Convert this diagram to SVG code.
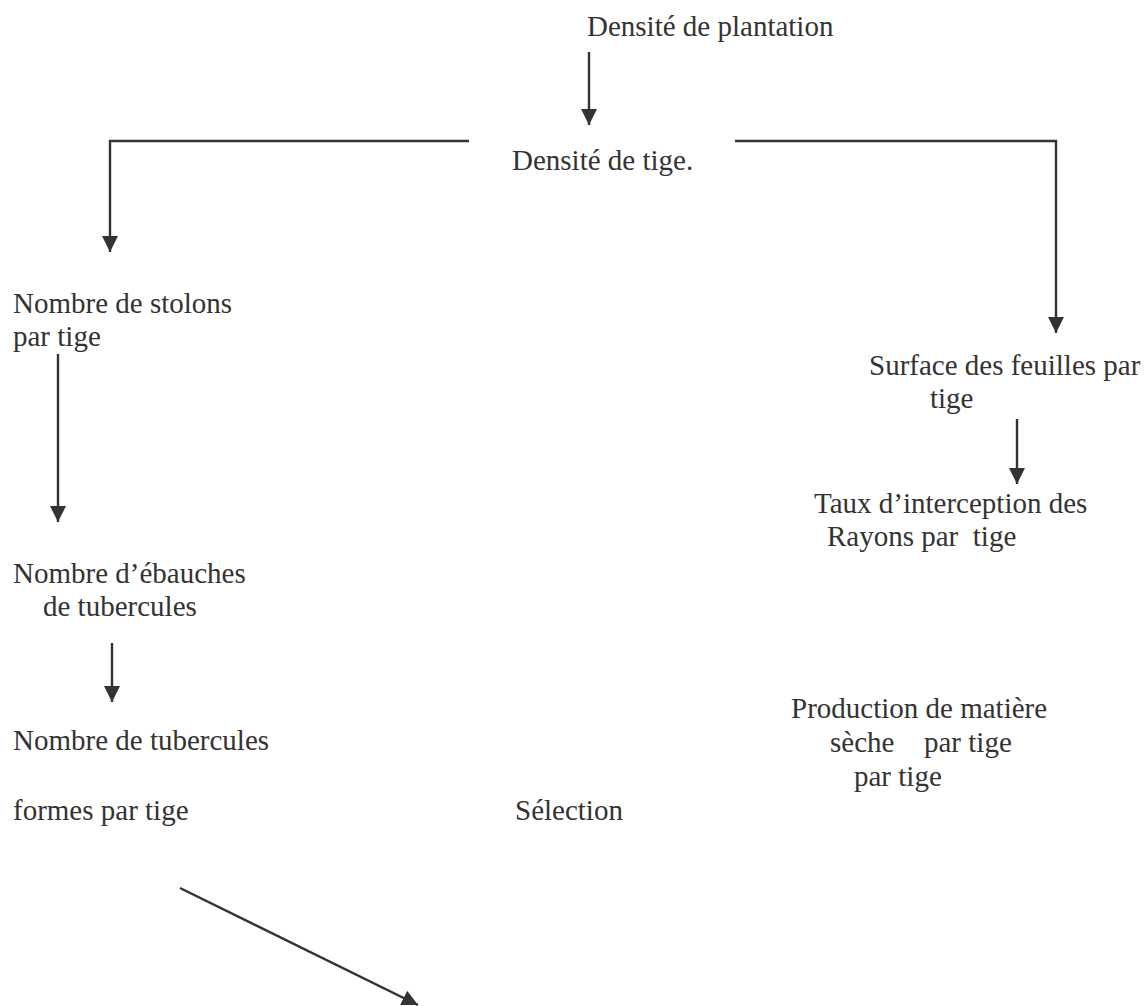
<svg xmlns="http://www.w3.org/2000/svg" width="1146" height="1006" viewBox="0 0 1146 1006">
  <style>
    .lbl { font-family: "Liberation Serif", "Times New Roman", serif; font-size: 29px; fill: #333333; }
    .edge { fill: none; stroke: #333333; stroke-width: 2.4; }
  </style>
  <defs>
    <marker id="arrow" markerUnits="userSpaceOnUse" markerWidth="16" markerHeight="16" viewBox="0 0 16 16" refX="16" refY="8" orient="auto">
      <path d="M0,0 L16,8 L0,16 z" fill="#333333"/>
    </marker>
  </defs>
  <rect width="1146" height="1006" fill="#ffffff"/>

  <!-- connectors -->
  <g id="connectors">
    <line class="edge" x1="589" y1="52" x2="589" y2="125" marker-end="url(#arrow)"/>
    <polyline class="edge" points="469,141 110,141 110,252" marker-end="url(#arrow)"/>
    <polyline class="edge" points="735,141 1056,141 1056,333" marker-end="url(#arrow)"/>
    <line class="edge" x1="58" y1="354" x2="58" y2="522" marker-end="url(#arrow)"/>
    <line class="edge" x1="112" y1="643" x2="112" y2="702" marker-end="url(#arrow)"/>
    <line class="edge" x1="1017" y1="419" x2="1017" y2="484" marker-end="url(#arrow)"/>
    <line class="edge" x1="180" y1="888" x2="418" y2="1005" marker-end="url(#arrow)"/>
  </g>

  <!-- nodes -->
  <g id="densite-plantation">
    <text class="lbl" x="587" y="36">Densité de plantation</text>
  </g>
  <g id="densite-tige">
    <text class="lbl" x="512" y="170">Densité de tige.</text>
  </g>
  <g id="stolons">
    <text class="lbl" x="13" y="313">Nombre de stolons</text>
    <text class="lbl" x="13" y="346">par tige</text>
  </g>
  <g id="ebauches">
    <text class="lbl" x="13" y="583">Nombre d’ébauches</text>
    <text class="lbl" x="43" y="616">de tubercules</text>
  </g>
  <g id="tubercules">
    <text class="lbl" x="13" y="750">Nombre de tubercules</text>
    <text class="lbl" x="13" y="820">formes par tige</text>
  </g>
  <g id="selection">
    <text class="lbl" x="515" y="820">Sélection</text>
  </g>
  <g id="surface-feuilles">
    <text class="lbl" x="869" y="375">Surface des feuilles par</text>
    <text class="lbl" x="930" y="408">tige</text>
  </g>
  <g id="interception">
    <text class="lbl" x="814" y="513">Taux d’interception des</text>
    <text class="lbl" x="827" y="546" xml:space="preserve">Rayons par  tige</text>
  </g>
  <g id="matiere-seche">
    <text class="lbl" x="791" y="718">Production de matière</text>
    <text class="lbl" y="752"><tspan x="830">sèche</tspan><tspan x="924">par tige</tspan></text>
    <text class="lbl" x="854" y="786">par tige</text>
  </g>
</svg>
